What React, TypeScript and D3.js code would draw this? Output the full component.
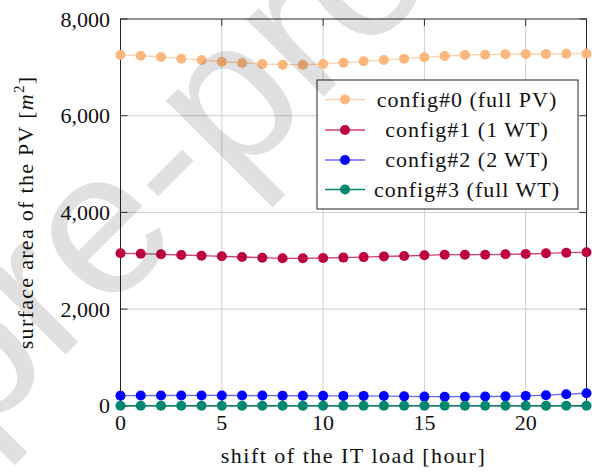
import React from "react";
import * as d3 from "d3";

const hours = [0, 1, 2, 3, 4, 5, 6, 7, 8, 9, 10, 11, 12, 13, 14, 15, 16, 17, 18, 19, 20, 21, 22, 23];
const config0 = [7255, 7241, 7214, 7179, 7152, 7117, 7090, 7069, 7055, 7055, 7069, 7096, 7125, 7152, 7179, 7208, 7235, 7255, 7262, 7270, 7276, 7276, 7282, 7282];
const config1 = [3154, 3146, 3133, 3119, 3104, 3092, 3078, 3063, 3051, 3051, 3057, 3065, 3075, 3090, 3098, 3113, 3125, 3125, 3125, 3133, 3140, 3154, 3167, 3175];
const config2 = [210, 212, 213, 214, 214, 214, 213, 212, 210, 208, 206, 205, 205, 202, 195, 190, 188, 188, 192, 195, 205, 220, 240, 260];
const config3 = [0, 0, 0, 0, 0, 0, 0, 0, 0, 0, 0, 0, 0, 0, 0, 0, 0, 0, 0, 0, 0, 0, 0, 0];
const seriesNames = ["config#0 (full PV)", "config#1 (1 WT)", "config#2 (2 WT)", "config#3 (full WT)"];
const seriesColors = ["#fcb77c", "#bf0040", "#0000ff", "#00876f"];
const lineOpacity = [0.6, 0.75, 0.6, 1];
const xTicks = [0, 5, 10, 15, 20];
const yTicks = [0, 2000, 4000, 6000, 8000];

const FONT = "'Liberation Serif', 'Times New Roman', serif";

export default function App() {
  const W = 592, H = 472;
  const x = d3.scaleLinear().domain([0, 23]).range([120.5, 586.5]);
  const y = d3.scaleLinear().domain([0, 8000]).range([405.8, 19]);
  const series = [config0, config1, config2, config3];
  const line = d3.line<number>().x((_, i) => x(hours[i])).y((d) => y(d));
  const fmt = d3.format(",");
  const [x0, x1] = x.range();
  const [yb, yt] = y.range();
  const tickLen = 7;

  const legX = 317, legY = 80, legW = 261, legH = 129;
  const rowY = [99.5, 130, 160, 189.5];

  return (
    <svg width={W} height={H} style={{ position: "absolute", left: 0, top: 0, background: "#fff" }} fontFamily={FONT}>
      <rect width={W} height={H} fill="#fff" />
      {/* grid */}
      {xTicks.filter((t) => t > 0).map((t) => (
        <line key={"gx" + t} x1={x(t)} x2={x(t)} y1={yt} y2={yb} stroke="#cfcfcf" strokeWidth={1} />
      ))}
      {yTicks.filter((t) => t > 0 && t < 8000).map((t) => (
        <line key={"gy" + t} x1={x0} x2={x1} y1={y(t)} y2={y(t)} stroke="#cfcfcf" strokeWidth={1} />
      ))}
      {/* ticks */}
      {xTicks.map((t) => (
        <g key={"tx" + t}>
          <line x1={x(t)} x2={x(t)} y1={yb} y2={yb - tickLen} stroke="#333" strokeWidth={1} />
          <line x1={x(t)} x2={x(t)} y1={yt} y2={yt + tickLen} stroke="#333" strokeWidth={1} />
        </g>
      ))}
      {yTicks.map((t) => (
        <g key={"ty" + t}>
          <line x1={x0} x2={x0 + tickLen} y1={y(t)} y2={y(t)} stroke="#333" strokeWidth={1} />
          <line x1={x1} x2={x1 - tickLen} y1={y(t)} y2={y(t)} stroke="#333" strokeWidth={1} />
        </g>
      ))}
      {/* border */}
      <rect x={x0} y={yt} width={x1 - x0} height={yb - yt} fill="none" stroke="#222" strokeWidth={1} />
      {/* series */}
      {series.map((s, k) => (
        <g key={"s" + k}>
          <path d={line(s) || ""} fill="none" stroke={seriesColors[k]} strokeOpacity={lineOpacity[k]} strokeWidth={1.3} />
          {s.map((v, i) => (
            <circle key={i} cx={x(hours[i])} cy={y(v)} r={5} fill={seriesColors[k]} />
          ))}
        </g>
      ))}
      {/* tick labels */}
      {xTicks.map((t) => (
        <text key={"lx" + t} x={x(t)} y={430} textAnchor="middle" fontSize={22} fill="#111">{t}</text>
      ))}
      {yTicks.map((t) => (
        <text key={"ly" + t} x={110} y={y(t) + 7.5} textAnchor="end" fontSize={22} fill="#111">{fmt(t)}</text>
      ))}
      {/* axis labels */}
      <text x={(x0 + x1) / 2} y={463} textAnchor="middle" fontSize={22} letterSpacing={1.5} fill="#111">
        shift of the IT load [hour]
      </text>
      <text transform={`translate(33, ${(yt + yb) / 2}) rotate(-90)`} textAnchor="middle" fontSize={22} letterSpacing={1.3} fill="#111">
        surface area of the PV [<tspan fontStyle="italic">m</tspan><tspan fontSize={15} dy={-9}>2</tspan><tspan dy={9}>]</tspan>
      </text>
      {/* legend */}
      <rect x={legX} y={legY} width={legW} height={legH} fill="#fff" stroke="#222" strokeWidth={1} />
      {seriesNames.map((name, k) => (
        <g key={"leg" + k}>
          <line x1={325} x2={365} y1={rowY[k]} y2={rowY[k]} stroke={seriesColors[k]} strokeOpacity={lineOpacity[k]} strokeWidth={1.3} />
          <circle cx={345} cy={rowY[k]} r={5} fill={seriesColors[k]} />
          <text x={467} y={rowY[k] + 7} textAnchor="middle" fontSize={22} letterSpacing={1} fill="#111">{name}</text>
        </g>
      ))}
      {/* watermark */}
      <text transform="translate(-25, 445) rotate(-45)" fontFamily="'Liberation Sans', Arial, sans-serif" fontSize={205} fill="#000" fillOpacity={0.12}>
        pre-proof
      </text>
    </svg>
  );
}
